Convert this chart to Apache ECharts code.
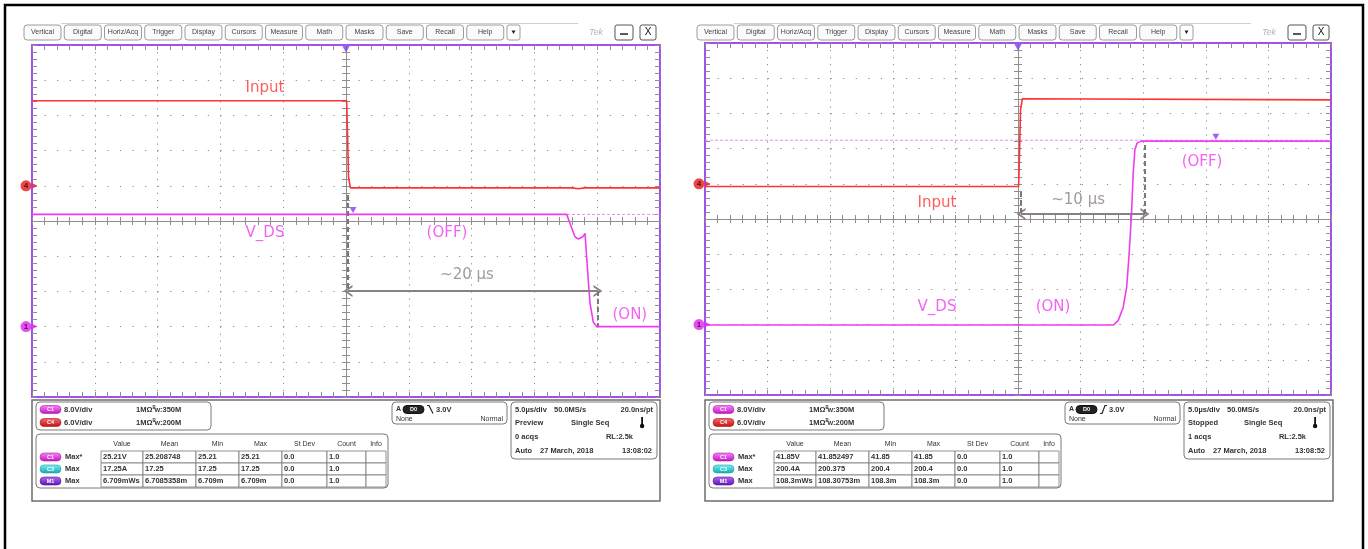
<!DOCTYPE html>
<html><head><meta charset="utf-8">
<script src="https://cdn.jsdelivr.net/npm/echarts@6/dist/echarts.min.js"></script>
<style>html,body{margin:0;padding:0;background:#fff}#c{width:1368px;height:549px}</style>
</head><body><div id="c"></div>
<script>
// ---------------- DATA ----------------
const menuLabels = ['Vertical','Digital','Horiz/Acq','Trigger','Display','Cursors','Measure','Math','Masks','Save','Recall','Help'];
const tableHeaders = ['Value','Mean','Min','Max','St Dev','Count','Info'];

// channel settings: V/div and position (div)
const ch1Scale = 8, ch1Pos = -3;   // V_DS (C1)
const ch4Scale = 6, ch4Pos = 1;    // Input (C4)

// Left capture (time in µs, volts)
const leftInputTime = [-25, 0.05, 0.12, 0.2, 0.35, 18, 18.5, 19, 25];
const leftInputVolt = [14.5, 14.5, 9.0, 1.5, -0.35, -0.35, -0.5, -0.35, -0.35];
const leftVdsTime = [-25, 17.57, 17.83, 18.23, 18.5, 18.85, 19.03, 19.16, 19.29, 19.43, 19.69, 19.96, 25];
const leftVdsVolt = [25.5, 25.5, 23.5, 20.4, 19.9, 20.4, 21.2, 15.8, 10.5, 5.3, 1.0, 0, 0];
const leftRefVolt = 25.5;
const leftDelayTime = [0.16, 20.06];        // µs
const leftDelayDiv = [0.74, -1.99, -2.98];  // top of start marker, arrow level, bottom of end marker
const leftLabels = ['Input', 'V_DS', '(OFF)', '(ON)', '~20 µs'];
const leftLabelTime = [-6.45, -6.45, 8.04, 22.6, 9.63];
const leftLabelDiv = [3.78, -0.33, -0.33, -2.67, -1.53];
const leftTrigLevel = [0.56, 26.5];

// Right capture
const rightInputTime = [-25, 0.05, 0.12, 0.2, 0.35, 25];
const rightInputVolt = [-0.45, -0.45, 5.0, 12.5, 14.5, 14.3];
const rightVdsTime = [-25, 7.61, 8.0, 8.4, 8.68, 8.88, 9.07, 9.2, 9.34, 9.52, 9.87, 25];
const rightVdsVolt = [-0.1, -0.1, 0.9, 3.9, 8.5, 16.2, 25.3, 34.4, 39.8, 41.3, 41.7, 41.7];
const rightRefVolt = 41.9;
const rightDelayTime = [0.24, 10.14];
const rightDelayDiv = [0.77, 0.14, 2.1];
const rightLabels = ['Input', 'V_DS', '(ON)', '(OFF)', '~10 µs'];
const rightLabelTime = [-6.47, -6.47, 2.8, 14.7, 4.8];
const rightLabelDiv = [0.45, -2.5, -2.5, 1.62, 0.54];
const rightTrigLevel = [15.8, 42.7];

const leftMeasRows = [
  ['C1','Max*','25.21V','25.208748','25.21','25.21','0.0','1.0',''],
  ['C3','Max','17.25A','17.25','17.25','17.25','0.0','1.0',''],
  ['M1','Max','6.709mWs','6.7085358m','6.709m','6.709m','0.0','1.0','']
];
const rightMeasRows = [
  ['C1','Max*','41.85V','41.852497','41.85','41.85','0.0','1.0',''],
  ['C3','Max','200.4A','200.375','200.4','200.4','0.0','1.0',''],
  ['M1','Max','108.3mWs','108.30753m','108.3m','108.3m','0.0','1.0','']
];
const chanInfo = [['C1','8.0V/div','350M'],['C4','6.0V/div','200M']];
const leftAcq = ['5.0µs/div','50.0MS/s','20.0ns/pt','Preview','Single Seq','0 acqs','RL:2.5k','Auto','27 March, 2018','13:08:02'];
const rightAcq = ['5.0µs/div','50.0MS/s','20.0ns/pt','Stopped','Single Seq','1 acqs','RL:2.5k','Auto','27 March, 2018','13:08:52'];
const trigInfo = ['A','D0','3.0V','None','Normal'];

// ---------------- HELPERS ----------------
const RED = '#ff3333', MAG = '#f03cf0', GREY_T = '#8a8282', PURPLE = '#8a3cf0';
const GRIDC = '#8e8e8e';
const toDiv = (v, sc, pos) => v / sc + pos;
const pairs = (ts, vs, sc, pos) => ts.map((t, i) => [t, toDiv(vs[i], sc, pos)]);

function axesFor(gi, xBase, yBase) {
  const tick = {color: GRIDC, width: 1};
  const bx = {gridIndex: gi, type: 'value', min: -25, max: 25, interval: 5, axisLabel: {show: false}, splitLine: {show: false}};
  const by = {gridIndex: gi, type: 'value', min: -5, max: 5, interval: 1, axisLabel: {show: false}, splitLine: {show: false}};
  const xs = [
    Object.assign({}, bx, {position: 'bottom', axisLine: {show: false, onZero: false},
      axisTick: {show: true, inside: true, length: 5, lineStyle: tick}, minorTick: {show: true, splitNumber: 5, length: 5, lineStyle: tick},
      splitLine: {show: true, lineStyle: {color: '#8a8a8a', width: 1, type: [1.2, 5.84]}}}),
    Object.assign({}, bx, {position: 'top', axisLine: {show: false, onZero: false},
      axisTick: {show: true, inside: true, length: 5, lineStyle: tick}, minorTick: {show: true, splitNumber: 5, length: 5, lineStyle: tick}}),
    Object.assign({}, bx, {position: 'bottom', axisLine: {show: true, onZero: true, onZeroAxisIndex: yBase, lineStyle: {color: GRIDC, width: 1}},
      axisTick: {show: true, inside: true, length: 4, lineStyle: tick}, minorTick: {show: true, splitNumber: 5, length: 4, lineStyle: tick}}),
    Object.assign({}, bx, {position: 'bottom', axisLine: {show: false, onZero: true, onZeroAxisIndex: yBase},
      axisTick: {show: true, inside: false, length: 4, lineStyle: tick}, minorTick: {show: true, splitNumber: 5, length: 4, lineStyle: tick}})
  ];
  const ys = [
    Object.assign({}, by, {position: 'left', axisLine: {show: false, onZero: false},
      axisTick: {show: true, inside: true, length: 5, lineStyle: tick}, minorTick: {show: true, splitNumber: 5, length: 5, lineStyle: tick},
      splitLine: {show: true, lineStyle: {color: '#8a8a8a', width: 1, type: [1.2, 11.36]}}}),
    Object.assign({}, by, {position: 'right', axisLine: {show: false, onZero: false},
      axisTick: {show: true, inside: true, length: 5, lineStyle: tick}, minorTick: {show: true, splitNumber: 5, length: 5, lineStyle: tick}}),
    Object.assign({}, by, {position: 'left', axisLine: {show: true, onZero: true, onZeroAxisIndex: xBase, lineStyle: {color: GRIDC, width: 1}},
      axisTick: {show: true, inside: true, length: 4, lineStyle: tick}, minorTick: {show: true, splitNumber: 5, length: 4, lineStyle: tick}}),
    Object.assign({}, by, {position: 'left', axisLine: {show: false, onZero: true, onZeroAxisIndex: xBase},
      axisTick: {show: true, inside: false, length: 4, lineStyle: tick}, minorTick: {show: true, splitNumber: 5, length: 4, lineStyle: tick}})
  ];
  return {xs, ys};
}

const CHEVRON = 'path://M0,10 L5,0 L10,10 L8.2,10 L5,3.6 L1.8,10 Z';

function seriesFor(xi, yi, d) {
  const common = {xAxisIndex: xi, yAxisIndex: yi, silent: true, animation: false};
  const s = [];
  s.push(Object.assign({type: 'line', symbol: 'none', z: 2, data: [[-25, toDiv(d.ref, ch1Scale, ch1Pos)], [25, toDiv(d.ref, ch1Scale, ch1Pos)]],
    lineStyle: {color: '#e58ff0', width: 1, type: [3, 2]}}, common));
  s.push(Object.assign({type: 'line', symbol: 'none', z: 3, data: pairs(d.inT, d.inV, ch4Scale, ch4Pos), lineStyle: {color: RED, width: 1.6}}, common));
  s.push(Object.assign({type: 'line', symbol: 'none', z: 4, data: pairs(d.vT, d.vV, ch1Scale, ch1Pos), lineStyle: {color: MAG, width: 1.6}}, common));
  // measurement annotation
  const dash = {color: '#7d7575', width: 2, type: [5, 3]};
  s.push(Object.assign({type: 'line', symbol: 'none', z: 6, data: [[d.delT[0], d.delD[0]], [d.delT[0], d.delD[1]]], lineStyle: dash}, common));
  s.push(Object.assign({type: 'line', symbol: 'none', z: 6, data: [[d.delT[1], d.delD[1]], [d.delT[1], d.delD[2]]], lineStyle: dash}, common));
  s.push(Object.assign({type: 'scatter', symbolSize: 0, data: [], z: 6,
    markLine: {silent: true, animation: false, symbol: [CHEVRON, CHEVRON], symbolSize: [12, 9], label: {show: false},
      lineStyle: {color: '#8a8080', width: 2, type: 'solid'},
      data: [[{coord: [d.delT[0], d.delD[1]]}, {coord: [d.delT[1], d.delD[1]]}]]}}, common));
  // text labels
  const colors = d.labelColors;
  s.push(Object.assign({type: 'scatter', symbolSize: 1, z: 7, itemStyle: {color: 'transparent'},
    data: d.labels.map((t, i) => ({value: [d.labT[i], d.labD[i]],
      label: {show: true, position: 'inside', formatter: t, color: colors[i], fontSize: 15, fontFamily: 'DejaVu Sans'}}))}, common));
  // channel markers on left edge
  s.push(Object.assign({type: 'scatter', clip: false, z: 8, symbol: 'circle', symbolSize: 11, symbolOffset: [-6, 0],
    data: [
      {value: [-25, ch4Pos], itemStyle: {color: '#e81818'}, label: {show: true, position: 'inside', formatter: '4', fontSize: 8, color: '#300', fontWeight: 'bold'}},
      {value: [-25, ch1Pos], itemStyle: {color: '#e020f0'}, label: {show: true, position: 'inside', formatter: '1', fontSize: 8, color: '#300', fontWeight: 'bold'}}
    ]}, common));
  s.push(Object.assign({type: 'scatter', clip: false, z: 8, symbol: 'triangle', symbolRotate: -90, symbolSize: [5, 5], symbolOffset: [3, 0],
    data: [{value: [-25, ch4Pos], itemStyle: {color: '#e81818'}}, {value: [-25, ch1Pos], itemStyle: {color: '#e020f0'}}]}, common));
  // trigger markers
  s.push(Object.assign({type: 'scatter', clip: false, z: 8, symbol: 'triangle', symbolRotate: 180, itemStyle: {color: PURPLE},
    data: [
      {value: [0, 5], symbolSize: [8, 7], symbolOffset: [0, 4]},
      {value: [d.trig[0], toDiv(d.trig[1], ch1Scale, ch1Pos)], symbolSize: [7, 6]}
    ]}, common));
  return s;
}

// ---------------- GRAPHICS (scope UI chrome) ----------------
const F = '"Liberation Sans", Arial, sans-serif';
function T(x, y, s, o) {
  return {type: 'text', x: x, y: y, z: 20, silent: true,
    style: Object.assign({text: s, fill: '#333', font: 'bold 7.5px ' + F, textAlign: 'left', textVerticalAlign: 'middle'}, o || {})};
}
function R(x, y, w, h, r, st) {
  return {type: 'rect', z: 19, silent: true, shape: {x: x, y: y, width: w, height: h, r: r || 0},
    style: Object.assign({fill: 'none', stroke: '#888', lineWidth: 1}, st || {})};
}
const badgeColors = {C1: ['#f58cf5', '#c010c0'], C4: ['#f07070', '#c01010'], C3: ['#80f0f0', '#10a8b0'], M1: ['#b070f0', '#6010b0'], D0: ['#444', '#111']};
function badge(x, y, name) {
  const c = badgeColors[name];
  return [
    R(x, y, 21, 8, 4, {stroke: c[1], lineWidth: 0.6, fill: {type: 'linear', x: 0, y: 0, x2: 0, y2: 1, colorStops: [{offset: 0, color: c[0]}, {offset: 1, color: c[1]}]}}),
    T(x + 10.5, y + 4.2, name, {fill: '#fff', font: 'bold 5.5px ' + F, textAlign: 'center'})
  ];
}
function bw(x, y, v) {
  return [T(x, y, '1MΩ'), T(x + 16.5, y - 2, 'B', {font: 'bold 4.5px ' + F}), T(x + 18.5, y + 1, 'W', {font: 'bold 6px ' + F}), T(x + 24, y, ':' + v)];
}

function panelGraphics(ox, meas, acq, rising) {
  const g = [];
  // toolbar
  g.push({type: 'line', z: 18, silent: true, shape: {x1: ox + 61, y1: 23.5, x2: ox + 578, y2: 23.5}, style: {stroke: '#cfcfcf', lineWidth: 1}});
  menuLabels.forEach((m, i) => {
    const bx = ox + 24 + i * 40.25;
    g.push(R(bx, 25, 37, 15, 3, {fill: '#fbfbfb', stroke: '#9c9c9c'}));
    g.push(T(bx + 18.5, 32.5, m, {font: '7px ' + F, textAlign: 'center', fill: '#444'}));
  });
  g.push(R(ox + 507, 25, 13, 15, 2, {fill: '#fff', stroke: '#9c9c9c'}));
  g.push({type: 'polygon', z: 20, silent: true, shape: {points: [[ox + 511.5, 30.5], [ox + 515.5, 30.5], [ox + 513.5, 34]]}, style: {fill: '#222'}});
  g.push(T(ox + 596, 32.5, 'Tek', {font: 'italic 9px ' + F, fill: '#b5b5b5', textAlign: 'center'}));
  g.push(R(ox + 615, 25, 18, 15, 2, {fill: '#fff', stroke: '#555'}));
  g.push({type: 'line', z: 20, silent: true, shape: {x1: ox + 620, y1: 34, x2: ox + 628, y2: 34}, style: {stroke: '#222', lineWidth: 1.5}});
  g.push(R(ox + 640, 25, 16, 15, 2, {fill: '#fff', stroke: '#555'}));
  g.push(T(ox + 648, 32.5, 'X', {font: '10px ' + F, fill: '#111', textAlign: 'center'}));

  // bottom frame
  g.push(R(ox + 32, 400, 628, 101, 0, {fill: '#fff', stroke: '#6e6e6e', lineWidth: 1.5}));
  // channel box
  g.push(R(ox + 36, 402, 175, 28, 4, {stroke: '#7a7a7a'}));
  chanInfo.forEach((c, i) => {
    const y = 409.5 + i * 13;
    g.push(...badge(ox + 40, y - 4, c[0]));
    g.push(T(ox + 64, y, c[1]));
    g.push(...bw(ox + 136, y, c[2]));
  });
  // trigger box
  g.push(R(ox + 392, 402, 115, 22, 4, {stroke: '#7a7a7a'}));
  g.push(T(ox + 396, 409.5, trigInfo[0], {font: 'bold 7px ' + F}));
  g.push(R(ox + 403, 405.5, 21, 8, 4, {fill: '#222', stroke: '#111'}));
  g.push(T(ox + 413.5, 409.7, trigInfo[1], {fill: '#fff', font: 'bold 5.5px ' + F, textAlign: 'center'}));
  g.push({type: 'polyline', z: 20, silent: true,
    shape: {points: rising ? [[ox + 427, 413.5], [ox + 429, 413.5], [ox + 432, 405.5], [ox + 434, 405.5]] : [[ox + 427, 405.5], [ox + 429, 405.5], [ox + 433, 413.5]]},
    style: {stroke: '#222', lineWidth: 1.2, fill: 'none'}});
  g.push(T(ox + 436, 409.5, trigInfo[2]));
  g.push(T(ox + 396, 419.5, trigInfo[3], {font: '7px ' + F}));
  g.push(T(ox + 503, 419.5, trigInfo[4], {font: '7px ' + F, textAlign: 'right'}));
  // acquisition box
  g.push(R(ox + 511, 402, 146, 57, 4, {stroke: '#7a7a7a'}));
  g.push(T(ox + 515, 409.5, acq[0]));
  g.push(T(ox + 554, 409.5, acq[1]));
  g.push(T(ox + 653, 409.5, acq[2], {textAlign: 'right'}));
  g.push(T(ox + 515, 423, acq[3]));
  g.push(T(ox + 571, 423, acq[4]));
  g.push(R(ox + 641.2, 417, 1.8, 8, 0, {fill: '#111', stroke: 'none'}));
  g.push({type: 'circle', z: 20, silent: true, shape: {cx: ox + 642.1, cy: 426, r: 2.2}, style: {fill: '#111'}});
  g.push(T(ox + 515, 437, acq[5]));
  g.push(T(ox + 633, 437, acq[6], {textAlign: 'right'}));
  g.push(T(ox + 515, 450.5, acq[7]));
  g.push(T(ox + 540, 450.5, acq[8]));
  g.push(T(ox + 652, 450.5, acq[9], {textAlign: 'right'}));
  // measurement table
  g.push(R(ox + 36, 434, 352, 54, 4, {stroke: '#7a7a7a'}));
  const cols = [101, 143, 196, 239, 282, 327, 366, 386];
  tableHeaders.forEach((h, i) => g.push(T(ox + (cols[i] + cols[i + 1]) / 2, 444, h, {font: '7px ' + F, textAlign: 'center'})));
  meas.forEach((row, r) => {
    const y0 = 451 + r * 12;
    g.push(...badge(ox + 40, y0 + 2, row[0]));
    g.push(T(ox + 65, y0 + 6, row[1]));
    for (let c = 0; c < 7; c++) {
      g.push(R(ox + cols[c], y0, cols[c + 1] - cols[c], 12, 0, {fill: '#fff', stroke: '#777', lineWidth: 0.8}));
      g.push(T(ox + cols[c] + 2, y0 + 6.3, row[c + 2]));
    }
  });
  return g;
}

// ---------------- CHART ----------------
const A = axesFor(0, 0, 0), B = axesFor(1, 4, 4);
const leftData = {ref: leftRefVolt, inT: leftInputTime, inV: leftInputVolt, vT: leftVdsTime, vV: leftVdsVolt,
  delT: leftDelayTime, delD: leftDelayDiv, labels: leftLabels, labT: leftLabelTime, labD: leftLabelDiv,
  labelColors: [RED, MAG, MAG, MAG, GREY_T], trig: leftTrigLevel};
const rightData = {ref: rightRefVolt, inT: rightInputTime, inV: rightInputVolt, vT: rightVdsTime, vV: rightVdsVolt,
  delT: rightDelayTime, delD: rightDelayDiv, labels: rightLabels, labT: rightLabelTime, labD: rightLabelDiv,
  labelColors: [RED, MAG, MAG, MAG, GREY_T], trig: rightTrigLevel};

const chart = echarts.init(document.getElementById('c'), null, {renderer: 'canvas'});
chart.setOption({
  animation: false,
  backgroundColor: '#ffffff',
  grid: [
    {left: 32, top: 45, width: 628, height: 352, show: true, backgroundColor: '#fff', borderColor: '#a64cf5', borderWidth: 2, outerBoundsMode: 'none', containLabel: false},
    {left: 705, top: 43, width: 626, height: 352, show: true, backgroundColor: '#fff', borderColor: '#a64cf5', borderWidth: 2, outerBoundsMode: 'none', containLabel: false}
  ],
  xAxis: A.xs.concat(B.xs),
  yAxis: A.ys.concat(B.ys),
  series: seriesFor(0, 0, leftData).concat(seriesFor(4, 4, rightData)),
  graphic: {elements: [
    {type: 'rect', z: 30, silent: true, shape: {x: 5, y: 5, width: 1358, height: 600}, style: {fill: 'none', stroke: '#000', lineWidth: 2.5}}
  ].concat(panelGraphics(0, leftMeasRows, leftAcq, false), panelGraphics(673, rightMeasRows, rightAcq, true))}
});
</script>
</body></html>
